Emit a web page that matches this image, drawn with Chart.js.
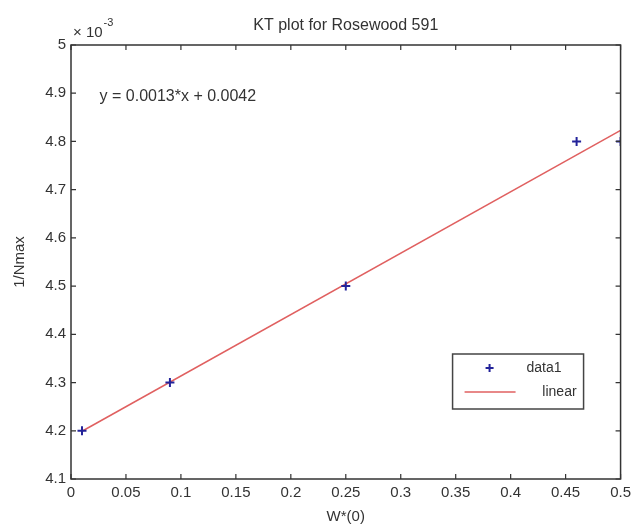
<!DOCTYPE html>
<html>
<head>
<meta charset="utf-8">
<script src="https://cdn.jsdelivr.net/npm/chart.js@4"></script>
<style>
  html, body { margin: 0; padding: 0; background: #fff; }
  #wrap { width: 636px; height: 528px; }
</style>
</head>
<body>
<div id="wrap"><canvas id="ktChart" width="636" height="528"></canvas></div>
<script>
// measured points (y in units of 1e-3)
const wValues = [0.01, 0.09, 0.25, 0.46, 0.5];
const invNmax = [4.2, 4.3, 4.5, 4.8, 4.8];

// basic-fitting line end points
const fitX = [0.01, 0.5];
const fitY = [4.199, 4.823];

const xTicks = [0, 0.05, 0.1, 0.15, 0.2, 0.25, 0.3, 0.35, 0.4, 0.45, 0.5];
const yTicks = [4.1, 4.2, 4.3, 4.4, 4.5, 4.6, 4.7, 4.8, 4.9, 5];

const titleText = 'KT plot for Rosewood 591';
const equationText = 'y = 0.0013*x + 0.0042';
const equationPos = [0.026, 4.893];

const FONT = '"Liberation Sans", Arial, sans-serif';
const TEXT = '#333';
const MARKER = '#23239a';
const FITLINE = '#e06060';

// MATLAB-like box with inward ticks, title, exponent, equation and legend
const matlabAxes = {
    id: 'matlabAxes',
    afterDraw(chart) {
        const { ctx, chartArea: a, scales } = chart;
        const xs = scales.x, ys = scales.y;
        const tl = 5;
        ctx.save();
        ctx.strokeStyle = '#333';
        ctx.lineWidth = 1.5;
        ctx.strokeRect(a.left, a.top, a.right - a.left, a.bottom - a.top);

        ctx.lineWidth = 1.2;
        ctx.beginPath();
        xs.ticks.forEach(t => {
            const px = xs.getPixelForValue(t.value);
            ctx.moveTo(px, a.bottom); ctx.lineTo(px, a.bottom - tl);
            ctx.moveTo(px, a.top); ctx.lineTo(px, a.top + tl);
        });
        ys.ticks.forEach(t => {
            const py = ys.getPixelForValue(t.value);
            ctx.moveTo(a.left, py); ctx.lineTo(a.left + tl, py);
            ctx.moveTo(a.right, py); ctx.lineTo(a.right - tl, py);
        });
        ctx.stroke();

        ctx.fillStyle = TEXT;
        // title
        ctx.font = '16px ' + FONT;
        ctx.textAlign = 'center';
        ctx.textBaseline = 'middle';
        ctx.fillText(titleText, (a.left + a.right) / 2, 26);

        // exponent
        ctx.textAlign = 'left';
        ctx.textBaseline = 'alphabetic';
        ctx.font = '15px ' + FONT;
        ctx.fillText('\u00d7 10', a.left + 2, a.top - 8);
        const w = ctx.measureText('\u00d7 10').width;
        ctx.font = '11px ' + FONT;
        ctx.fillText('-3', a.left + 3 + w, a.top - 19);

        // equation
        ctx.font = '16px ' + FONT;
        ctx.textBaseline = 'middle';
        ctx.fillText(equationText, xs.getPixelForValue(equationPos[0]), ys.getPixelForValue(equationPos[1]));

        // legend box
        const lx = a.right - 168, ly = a.bottom - 125, lw = 131, lh = 55;
        ctx.fillStyle = '#fff';
        ctx.fillRect(lx, ly, lw, lh);
        ctx.strokeStyle = '#444';
        ctx.lineWidth = 1.5;
        ctx.strokeRect(lx, ly, lw, lh);
        const ds = chart.data.datasets;
        // data1 marker
        ctx.strokeStyle = MARKER;
        ctx.lineWidth = 2;
        ctx.beginPath();
        ctx.moveTo(lx + 37 - 4, ly + 14); ctx.lineTo(lx + 37 + 4, ly + 14);
        ctx.moveTo(lx + 37, ly + 10); ctx.lineTo(lx + 37, ly + 18);
        ctx.stroke();
        // linear line
        ctx.strokeStyle = FITLINE;
        ctx.lineWidth = 1.5;
        ctx.beginPath();
        ctx.moveTo(lx + 12, ly + 38); ctx.lineTo(lx + 63, ly + 38);
        ctx.stroke();
        ctx.fillStyle = TEXT;
        ctx.font = '14px ' + FONT;
        ctx.textAlign = 'right';
        ctx.fillText(ds[0].label, lx + lw - 22, ly + 14);
        ctx.fillText(ds[1].label, lx + lw - 7, ly + 38);
        ctx.restore();
    }
};

new Chart(document.getElementById('ktChart').getContext('2d'), {
    type: 'scatter',
    data: {
        datasets: [{
            label: 'data1',
            data: wValues.map((w, i) => ({ x: w, y: invNmax[i] })),
            pointStyle: 'cross',
            pointRadius: 4.5,
            pointBorderWidth: 2,
            borderColor: MARKER,
            backgroundColor: MARKER,
            showLine: false
        }, {
            label: 'linear',
            type: 'line',
            data: fitX.map((x, i) => ({ x: x, y: fitY[i] })),
            borderColor: FITLINE,
            borderWidth: 1.5,
            pointRadius: 0,
            fill: false
        }]
    },
    options: {
        responsive: false,
        animation: false,
        layout: { padding: { top: 45, right: 13, left: 0, bottom: 0 } },
        plugins: {
            legend: { display: false },
            tooltip: { enabled: false }
        },
        scales: {
            x: {
                type: 'linear',
                min: 0,
                max: 0.5,
                afterFit: s => { s.height = 49; },
                afterBuildTicks: s => { s.ticks = xTicks.map(v => ({ value: v })); },
                grid: { display: false, drawTicks: false },
                border: { display: false },
                ticks: {
                    padding: 5,
                    maxRotation: 0,
                    autoSkip: false,
                    color: TEXT,
                    font: { family: FONT, size: 15 },
                    callback: v => String(v)
                },
                title: {
                    display: true,
                    text: 'W*(0)',
                    color: TEXT,
                    font: { family: FONT, size: 15 },
                    padding: { top: 0, bottom: 2 }
                }
            },
            y: {
                type: 'linear',
                min: 4.1,
                max: 5,
                afterFit: s => { s.width = 71; },
                afterBuildTicks: s => { s.ticks = yTicks.map(v => ({ value: v })); },
                grid: { display: false, drawTicks: false },
                border: { display: false },
                ticks: {
                    padding: 5,
                    autoSkip: false,
                    color: TEXT,
                    font: { family: FONT, size: 15 },
                    callback: v => String(v)
                },
                title: {
                    display: true,
                    text: '1/Nmax',
                    color: TEXT,
                    font: { family: FONT, size: 15 },
                    padding: { top: 11, bottom: 0 }
                }
            }
        }
    },
    plugins: [matlabAxes]
});
</script>
</body>
</html>
